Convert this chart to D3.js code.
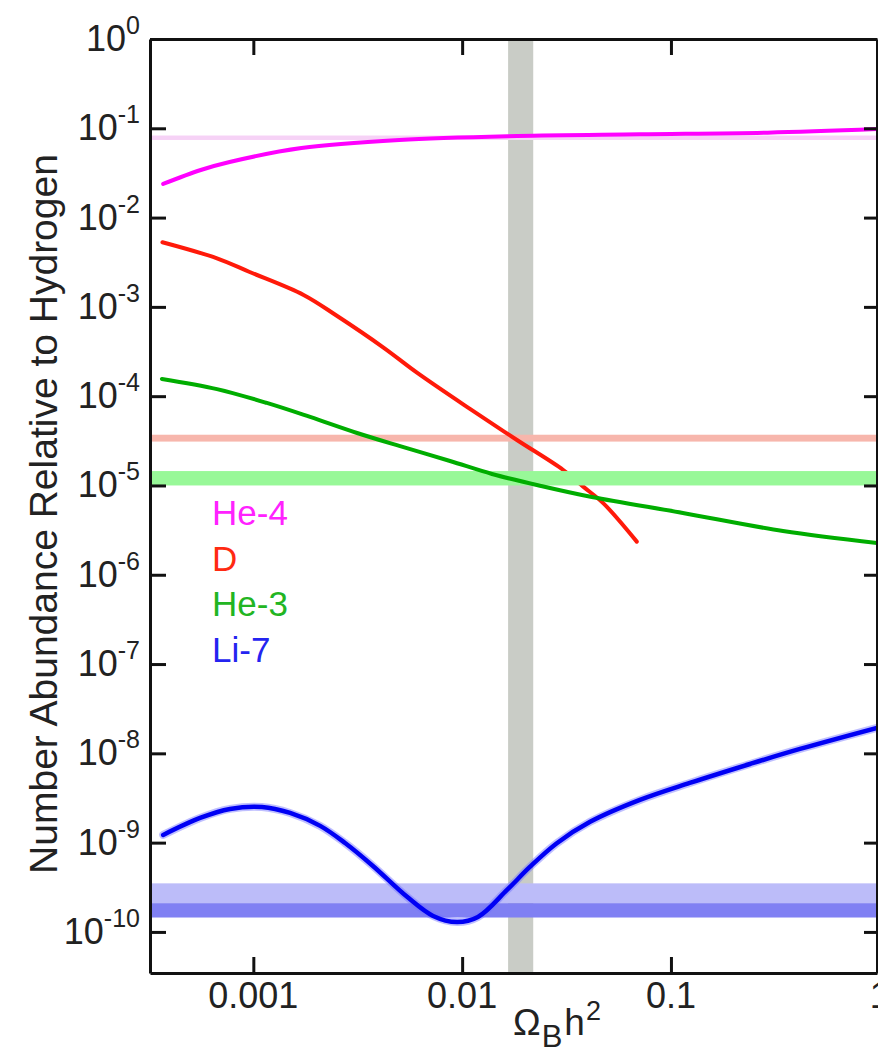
<!DOCTYPE html>
<html>
<head>
<meta charset="utf-8">
<script src="https://cdn.jsdelivr.net/npm/d3@7"></script>
<style>
  body { margin: 0; background: #fff; }
  svg { display: block; }
  text { font-family: "Liberation Sans", Arial, Helvetica, sans-serif; fill: #222; }
</style>
</head>
<body>
<div id="wrapper"></div>
<script>
// x tick values and labels (Omega_B h^2)
const omegaTicks = [0.001, 0.01, 0.1, 1]
const omegaTickLabels = ["0.001", "0.01", "0.1", "1"]
// y ticks are decades 10^0 .. 10^-10
const decadeExponents = [0, -1, -2, -3, -4, -5, -6, -7, -8, -9, -10]

// [Omega_B h^2, abundance]
const he4Curve = [
  [3.7e-4, 0.0238], [5.6e-4, 0.0341], [7.7e-4, 0.0419], [1.7e-3, 0.060],
  [5.0e-3, 0.074], [0.0183, 0.082], [0.071, 0.0857], [0.29, 0.0893], [0.97, 0.098],
]
const dCurve = [
  [3.67e-4, 5.3e-3], [6.7e-4, 3.5e-3], [9.6e-4, 2.46e-3], [1.74e-3, 1.36e-3],
  [2.5e-3, 8.0e-4], [4.2e-3, 3.5e-4], [6.1e-3, 1.82e-4], [0.0109, 7.2e-5],
  [0.0183, 3.23e-5], [0.0305, 1.49e-5], [0.038, 9.7e-6], [0.0475, 6.3e-6], [0.0686, 2.35e-6],
]
const he3Curve = [
  [3.65e-4, 1.56e-4], [6.7e-4, 1.2e-4], [1.16e-3, 8.4e-5], [1.87e-3, 5.85e-5],
  [3.14e-3, 3.87e-5], [5.0e-3, 2.77e-5], [8.75e-3, 1.88e-5], [0.0139, 1.345e-5],
  [0.0239, 9.87e-6], [0.0418, 7.43e-6], [0.114, 4.92e-6], [0.344, 3.09e-6], [0.97, 2.27e-6],
]
const li7Curve = [
  [3.7e-4, 1.22e-9], [5.56e-4, 1.89e-9], [7.73e-4, 2.385e-9], [1.1e-3, 2.51e-9],
  [1.5e-3, 2.15e-9], [2.09e-3, 1.54e-9], [2.75e-3, 9.9e-10], [3.74e-3, 5.48e-10],
  [5.45e-3, 2.47e-10], [7.26e-3, 1.51e-10], [9.45e-3, 1.29e-10], [0.0119, 1.47e-10],
  [0.0164, 2.95e-10], [0.0211, 5.34e-10], [0.0284, 9.85e-10], [0.041, 1.71e-9],
  [0.071, 3.01e-9], [0.123, 4.66e-9], [0.239, 7.6e-9], [0.415, 1.12e-8], [0.97, 1.93e-8],
]

// observed ranges [low, high]
const omegaBand = [0.0166, 0.0219]
const he4Obs = [0.074, 0.083]
const dObs = [3.1e-5, 3.7e-5]
const he3Obs = [1.0e-5, 1.45e-5]
const li7ObsWide = [2.1e-10, 3.5e-10]
const li7ObsNarrow = [1.45e-10, 2.1e-10]

const legendNames = ["He-4", "D", "He-3", "Li-7"]

async function drawChart() {

  // 1. dimensions

  let dimensions = {
    width: 878,
    height: 1053,
    margin: { top: 39, right: 1, bottom: 80, left: 150 },
  }
  dimensions.boundedWidth = dimensions.width - dimensions.margin.left - dimensions.margin.right
  dimensions.boundedHeight = dimensions.height - dimensions.margin.top - dimensions.margin.bottom

  // 2. canvas

  const wrapper = d3.select("#wrapper")
    .append("svg")
      .attr("width", dimensions.width)
      .attr("height", dimensions.height)

  const bounds = wrapper.append("g")
      .attr("transform", `translate(${dimensions.margin.left},${dimensions.margin.top})`)

  bounds.append("defs").append("clipPath")
      .attr("id", "plot-clip")
    .append("rect")
      .attr("width", dimensions.boundedWidth)
      .attr("height", dimensions.boundedHeight)

  // 3. scales

  const xScale = d3.scaleLog()
    .domain([3.2e-4, 0.97])
    .range([0, dimensions.boundedWidth])

  const yScale = d3.scaleLog()
    .domain([1, Math.pow(10, -10.46)])
    .range([0, dimensions.boundedHeight])

  const plot = bounds.append("g")
      .attr("clip-path", "url(#plot-clip)")

  const hBand = (range, color) => plot.append("rect")
      .attr("x", 0)
      .attr("width", dimensions.boundedWidth)
      .attr("y", yScale(range[1]))
      .attr("height", yScale(range[0]) - yScale(range[1]))
      .attr("fill", color)

  const lineGenerator = d3.line()
    .x(d => xScale(d[0]))
    .y(d => yScale(d[1]))
    .curve(d3.curveCatmullRom.alpha(0.5))

  const drawLine = (data, color, width) => plot.append("path")
      .datum(data)
      .attr("d", lineGenerator)
      .attr("fill", "none")
      .attr("stroke", color)
      .attr("stroke-width", width)
      .attr("stroke-linejoin", "round")
      .attr("stroke-linecap", "round")

  // 4. bands and curves

  plot.append("rect")
      .attr("x", xScale(omegaBand[0]))
      .attr("width", xScale(omegaBand[1]) - xScale(omegaBand[0]))
      .attr("y", 0)
      .attr("height", dimensions.boundedHeight)
      .attr("fill", "#c9ccc6")

  hBand(he4Obs, "#f6d2f6")
  hBand(dObs, "#f7b6ac")
  hBand(li7ObsWide, "#bcbcf9")
  hBand(li7ObsNarrow, "#8080f3")

  drawLine(dCurve, "#ff1a0a", 4)
  hBand(he3Obs, "#98f898")
  drawLine(he3Curve, "#00ad00", 4)
  drawLine(he4Curve, "#ff00ff", 4)
  drawLine(li7Curve, "#7070ff", 8).attr("opacity", 0.45)
  drawLine(li7Curve, "#0000f4", 4.5)

  // 5. axes (frame)

  const styleAxis = g => {
    g.selectAll(".domain, .tick line")
        .attr("stroke", "#111")
        .attr("stroke-width", 3)
    g.selectAll(".tick text").remove()
  }

  const decadeValues = decadeExponents.map(e => Math.pow(10, e))

  bounds.append("g")
      .call(d3.axisLeft(yScale).tickValues(decadeValues).tickSizeInner(-16).tickSizeOuter(0))
      .call(styleAxis)

  bounds.append("g")
      .attr("transform", `translate(${dimensions.boundedWidth},0)`)
      .call(d3.axisRight(yScale).tickValues(decadeValues).tickSizeInner(-13).tickSizeOuter(0))
      .call(styleAxis)

  const xTickValues = omegaTicks.filter(v => v <= xScale.domain()[1])

  bounds.append("g")
      .call(d3.axisTop(xScale).tickValues(xTickValues).tickSizeInner(-16).tickSizeOuter(0))
      .call(styleAxis)

  bounds.append("g")
      .attr("transform", `translate(0,${dimensions.boundedHeight})`)
      .call(d3.axisBottom(xScale).tickValues(xTickValues).tickSizeInner(-16).tickSizeOuter(0))
      .call(styleAxis)

  // y tick labels as 10^n
  const yLabels = bounds.append("g")
    .selectAll("text")
    .data(decadeExponents)
    .join("text")
      .attr("x", -10)
      .attr("y", d => yScale(Math.pow(10, d)) + 12)
      .attr("text-anchor", "end")
      .style("font-size", "36px")
  yLabels.append("tspan").text("10")
  yLabels.append("tspan")
      .attr("dy", -17)
      .style("font-size", "25px")
      .text(d => d === 0 ? "0" : "-" + Math.abs(d))

  // x tick labels (the "1" sits at the clipped right edge)
  bounds.append("g")
    .selectAll("text")
    .data(omegaTicks)
    .join("text")
      .attr("x", d => xScale(d))
      .attr("y", dimensions.boundedHeight + 35)
      .attr("text-anchor", "middle")
      .style("font-size", "36px")
      .text((d, i) => omegaTickLabels[i])

  // x axis title: Omega_B h^2
  const xTitle = bounds.append("text")
      .attr("x", 363)
      .attr("y", dimensions.boundedHeight + 62)
      .style("font-size", "37px")
  xTitle.append("tspan").text("\u03A9")
  xTitle.append("tspan").attr("dx", 1).attr("dy", 12).style("font-size", "31px").text("B")
  xTitle.append("tspan").attr("dx", 2).attr("dy", -12).text("h")
  xTitle.append("tspan").attr("dx", 1).attr("dy", -15).style("font-size", "27px").text("2")

  // y axis title
  wrapper.append("text")
      .attr("transform", "rotate(-90)")
      .attr("x", -514)
      .attr("y", 57)
      .attr("text-anchor", "middle")
      .style("font-size", "39px")
      .text("Number Abundance Relative to Hydrogen")

  // 6. legend

  const legendColors = ["#ff22ff", "#ff2a12", "#22b522", "#2424f0"]

  bounds.append("g")
    .selectAll("text")
    .data(legendNames)
    .join("text")
      .attr("x", 62)
      .attr("y", (d, i) => 486 + i * 45.7)
      .style("font-size", "35px")
      .style("fill", (d, i) => legendColors[i])
      .text(d => d)
}
drawChart()
</script>
</body>
</html>
